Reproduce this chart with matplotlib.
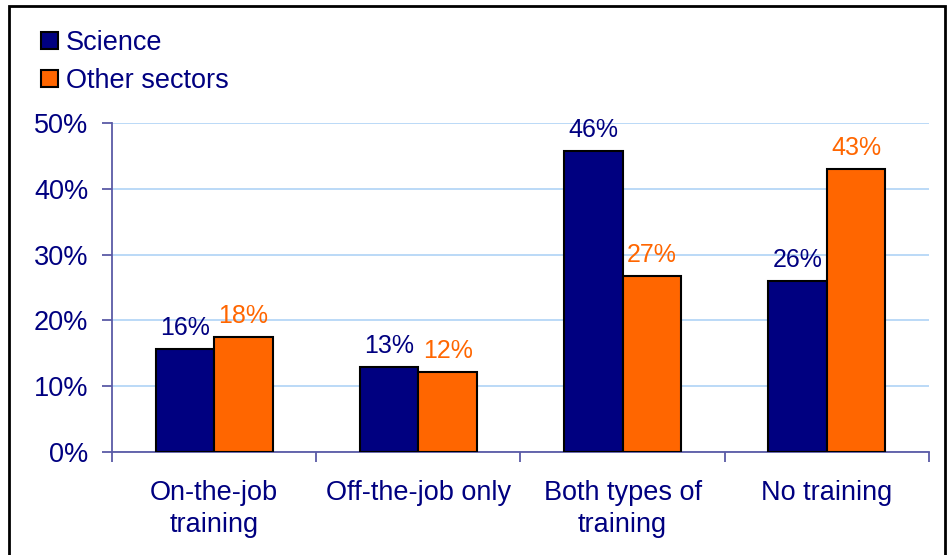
import numpy as np
import matplotlib.pyplot as plt
from matplotlib.patches import Rectangle

plt.rcParams['font.family'] = ['Liberation Sans', 'DejaVu Sans']

# Share of employees by type of training received
categories = ['On-the-job\ntraining', 'Off-the-job only', 'Both types of\ntraining', 'No training']
science = [15.6, 12.9, 45.8, 26.0]
other_sectors = [17.5, 12.1, 26.8, 43.0]
y_ticks = [0, 10, 20, 30, 40, 50]

navy = '#000080'
orange = '#ff6600'
axis_col = '#5a5aa6'
grid_col = '#a8d0f5'

fig = plt.figure(figsize=(9.51, 5.55), dpi=100)
ax = fig.add_axes([0.1178, 0.1856, 0.859, 0.5928])

x = np.arange(len(categories))
w = 0.287
b1 = ax.bar(x - w / 2, science, w, color=navy, edgecolor='black', linewidth=1.5,
            label='Science', zorder=3)
b2 = ax.bar(x + w / 2, other_sectors, w, color=orange, edgecolor='black', linewidth=1.5,
            label='Other sectors', zorder=3)

for bars, vals, col in [(b1, science, navy), (b2, other_sectors, orange)]:
    for rect, v in zip(bars, vals):
        ax.annotate(f'{v:.0f}%', (rect.get_x() + rect.get_width() / 2, v),
                    xytext=(0, 10), textcoords='offset points',
                    ha='center', va='baseline', fontsize=18, color=col)

ax.set_xlim(-0.5, len(categories) - 0.5)
ax.set_ylim(0, 50)
ax.set_yticks(y_ticks)
ax.set_yticklabels([f'{t}%' for t in y_ticks])
ax.set_xticks(x)
ax.set_xticklabels(categories, linespacing=1.3)
ax.set_xticks(np.arange(len(categories) + 1) - 0.5, minor=True)

ax.yaxis.grid(True, color=grid_col, linewidth=1.1, zorder=0)
ax.set_axisbelow(True)

for side in ['top', 'right']:
    ax.spines[side].set_visible(False)
for side in ['left', 'bottom']:
    ax.spines[side].set_color(axis_col)
    ax.spines[side].set_linewidth(1.3)

ax.tick_params(axis='y', colors=axis_col, labelcolor=navy, labelsize=19.5,
               length=7, width=1.3, direction='out', pad=10)
ax.tick_params(axis='x', which='major', length=0, labelcolor=navy, labelsize=19.5, pad=20)
ax.tick_params(axis='x', which='minor', colors=axis_col, length=7, width=1.3, direction='out')

leg = fig.legend(handles=[b1, b2], loc='upper left', bbox_to_anchor=(0.018, 0.99),
                 frameon=False, fontsize=19.5, labelcolor=navy, handlelength=0.6,
                 handleheight=0.6, handletextpad=0.3, labelspacing=0.45)

# black frame around the whole chart
fig.patches.append(Rectangle((0.009, -0.05), 0.985, 1.04, transform=fig.transFigure,
                             fill=False, edgecolor='black', linewidth=2))

fig.savefig('out.png', dpi=100)
